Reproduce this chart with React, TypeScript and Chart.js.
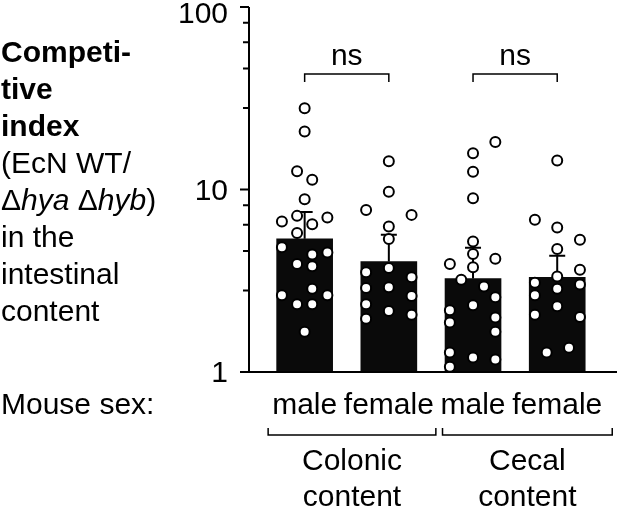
import React, { useEffect, useRef } from "react";
import { Chart, registerables } from "chart.js";

Chart.register(...registerables);

// ---- data ----
const sexLabels = ["male", "female", "male", "female"];
const groupLabels = [["Colonic", "content"], ["Cecal", "content"]];
const categoryPositions = [1, 2, 3, 4];
const barValues = [5.37, 4.03, 3.25, 3.3];
const errorUpper = [7.54, 5.65, 4.8, 4.34];
const yMajorTicks = [1, 10, 100];
const yMinorTicks = [2.8, 4.6, 6.4, 8.2, 28, 46, 64, 82];
const significance = ["ns", "ns"];
const bracketLevel = 43;

const maleColonic = [27.9, 20.8, 12.6, 11.3, 8.84, 7.17, 6.68, 6.46, 7.02, 5.77, 4.82, 4.52, 4.4, 3.91, 3.8, 2.86, 2.63, 2.63, 2.35, 2.35, 1.66];
const maleColonicJitter = [0, 0, -0.09, 0.09, 0, -0.09, -0.27, 0.09, 0.27, -0.09, -0.27, 0.27, 0.09, -0.09, 0.09, 0.09, -0.27, 0.27, -0.09, 0.09, 0];

const femaleColonic = [14.3, 9.73, 7.73, 7.26, 6.27, 5.35, 3.72, 3.52, 3.31, 2.89, 2.91, 2.61, 2.35, 2.16, 2.06, 1.96];
const femaleColonicJitter = [0, 0, -0.27, 0.27, 0, 0, 0, -0.27, 0.27, -0.27, 0, 0.27, -0.27, 0, 0.27, -0.27];

const maleCecal = [18.2, 15.8, 12.5, 8.96, 5.19, 4.43, 4.17, 3.91, 3.75, 3.2, 2.94, 2.57, 2.32, 2.18, 1.99, 1.87, 1.66, 1.28, 1.2, 1.17, 1.07];
const maleCecalJitter = [0.265, 0, 0, 0, 0, 0, 0.265, -0.275, 0, -0.14, 0.13, 0.265, 0, -0.275, 0.265, -0.275, 0.265, -0.275, 0, 0.265, -0.275];

const femaleCecal = [14.4, 6.82, 6.19, 5.31, 4.72, 3.63, 3.34, 3.08, 3.02, 2.86, 2.63, 2.29, 2.06, 2.0, 1.36, 1.28];
const femaleCecalJitter = [0, -0.265, 0, 0.27, 0, 0.27, 0, -0.265, 0.27, 0, -0.265, 0, -0.265, 0.27, 0.14, -0.125];

const pointGroups = [
  [maleColonic, maleColonicJitter],
  [femaleColonic, femaleColonicJitter],
  [maleCecal, maleCecalJitter],
  [femaleCecal, femaleCecalJitter],
];

const titleLines = [
  { bold: true, parts: [["Competi-", false]] },
  { bold: true, parts: [["tive", false]] },
  { bold: true, parts: [["index", false]] },
  { bold: false, parts: [["(EcN WT/", false]] },
  { bold: false, parts: [["\u0394", false], ["hya", true], [" \u0394", false], ["hyb", true], [")", false]] },
  { bold: false, parts: [["in the", false]] },
  { bold: false, parts: [["intestinal", false]] },
  { bold: false, parts: [["content", false]] },
];
const rowLabel = "Mouse sex:";

const FONT = '"Liberation Sans", Arial, sans-serif';
const FS = 30;

const decorPlugin = {
  id: "decor",
  afterDatasetDraw(chart: any, args: any) {
    if (args.index !== 0) return;
    const ctx = chart.ctx;
    const y = chart.scales.y;
    const meta = chart.getDatasetMeta(0);
    ctx.save();
    ctx.strokeStyle = "#000";
    ctx.lineWidth = 2;
    meta.data.forEach((el: any, i: number) => {
      const top = y.getPixelForValue(errorUpper[i]);
      ctx.beginPath();
      ctx.moveTo(el.x, el.y);
      ctx.lineTo(el.x, top);
      ctx.moveTo(el.x - 8, top);
      ctx.lineTo(el.x + 8, top);
      ctx.stroke();
    });
    ctx.restore();
  },
  afterDraw(chart: any) {
    const ctx = chart.ctx;
    const { left, top, bottom } = chart.chartArea;
    const xs = chart.scales.x;
    const ys = chart.scales.y;
    ctx.save();
    ctx.strokeStyle = "#000";
    ctx.fillStyle = "#000";
    ctx.lineWidth = 2;
    // axes
    ctx.beginPath();
    ctx.moveTo(left, top);
    ctx.lineTo(left, bottom);
    ctx.moveTo(left - 9, bottom);
    ctx.lineTo(chart.width, bottom);
    ctx.stroke();
    // ticks
    ctx.beginPath();
    yMajorTicks.forEach((v) => {
      const py = ys.getPixelForValue(v);
      ctx.moveTo(left - 9, py);
      ctx.lineTo(left, py);
    });
    yMinorTicks.forEach((v) => {
      const py = ys.getPixelForValue(v);
      ctx.moveTo(left - 6, py);
      ctx.lineTo(left, py);
    });
    ctx.stroke();
    ctx.font = `${FS}px ${FONT}`;
    ctx.textAlign = "right";
    ctx.textBaseline = "middle";
    yMajorTicks.forEach((v) => {
      const py = ys.getPixelForValue(v);
      ctx.fillText(String(v), left - 21, Math.max(py + 2, 15));
    });
    // significance brackets
    const by = ys.getPixelForValue(bracketLevel);
    significance.forEach((s, g) => {
      const x0 = xs.getPixelForValue(categoryPositions[2 * g]);
      const x1 = xs.getPixelForValue(categoryPositions[2 * g + 1]);
      ctx.beginPath();
      ctx.moveTo(x0, by + 8);
      ctx.lineTo(x0, by);
      ctx.lineTo(x1, by);
      ctx.lineTo(x1, by + 8);
      ctx.lineWidth = 1.5;
      ctx.stroke();
      ctx.textAlign = "center";
      ctx.textBaseline = "alphabetic";
      ctx.fillText(s, (x0 + x1) / 2, by - 9);
    });
    // category labels
    ctx.textAlign = "center";
    ctx.textBaseline = "alphabetic";
    sexLabels.forEach((s, i) => {
      ctx.fillText(s, xs.getPixelForValue(categoryPositions[i]), bottom + 42);
    });
    groupLabels.forEach((lines, g) => {
      const x0 = xs.getPixelForValue(categoryPositions[2 * g]);
      const x1 = xs.getPixelForValue(categoryPositions[2 * g + 1]);
      const l = x0 - ctx.measureText(sexLabels[2 * g]).width / 2 - 4 + g * 6;
      const r = Math.min(x1 + ctx.measureText(sexLabels[2 * g + 1]).width / 2 + 2 + g * 8, chart.width - 4);
      const ly = bottom + 63;
      ctx.beginPath();
      ctx.moveTo(l, ly - 7);
      ctx.lineTo(l, ly);
      ctx.lineTo(r, ly);
      ctx.lineTo(r, ly - 7);
      ctx.lineWidth = 1.5;
      ctx.stroke();
      lines.forEach((t, k) => {
        ctx.fillText(t, (l + r) / 2, bottom + 98 + k * 36);
      });
    });
    ctx.restore();
  },
};

export default function App() {
  const ref = useRef<HTMLCanvasElement | null>(null);
  useEffect(() => {
    if (!ref.current) return;
    const points: { x: number; y: number }[] = [];
    pointGroups.forEach(([vals, jit], i) => {
      vals.forEach((v, j) => points.push({ x: categoryPositions[i] + jit[j], y: v }));
    });
    const chart = new Chart(ref.current, {
      type: "bar",
      data: {
        datasets: [
          {
            type: "bar",
            data: categoryPositions.map((x, i) => ({ x, y: barValues[i] })) as any,
            backgroundColor: "#0a0a0a",
            barThickness: 56,
            order: 2,
          } as any,
          {
            type: "scatter",
            data: points as any,
            pointRadius: 5,
            pointBorderWidth: 2,
            pointBackgroundColor: "#ffffff",
            pointBorderColor: "#000000",
            order: 1,
          } as any,
        ],
      },
      options: {
        animation: false,
        responsive: false,
        devicePixelRatio: 1,
        layout: { padding: { left: 249, right: 0, top: 5, bottom: 136 } },
        plugins: { legend: { display: false }, tooltip: { enabled: false } },
        scales: {
          x: { type: "linear", min: 0.339, max: 4.627, offset: false, display: false },
          y: { type: "logarithmic", min: 1, max: 100, display: false },
        },
      } as any,
      plugins: [decorPlugin],
    });
    return () => chart.destroy();
  }, []);

  return (
    <div style={{ position: "fixed", left: 0, top: 0, width: 617, height: 508, background: "#fff", overflow: "hidden" }}>
      <canvas ref={ref} width={617} height={508} style={{ position: "absolute", left: 0, top: 0 }} />
      <div
        style={{
          position: "absolute",
          left: 1,
          top: 33,
          fontFamily: FONT,
          fontSize: FS,
          lineHeight: "37px",
          color: "#000",
          whiteSpace: "nowrap",
        }}
      >
        {titleLines.map((line, i) => (
          <div key={i} style={{ fontWeight: line.bold ? "bold" : "normal" }}>
            {line.parts.map(([t, it], k) => (
              <span key={k} style={{ fontStyle: it ? "italic" : "normal" }}>
                {t as string}
              </span>
            ))}
          </div>
        ))}
      </div>
      <div
        style={{
          position: "absolute",
          left: 1,
          top: 385,
          fontFamily: FONT,
          fontSize: FS,
          lineHeight: "37px",
          color: "#000",
          whiteSpace: "nowrap",
        }}
      >
        {rowLabel}
      </div>
    </div>
  );
}
